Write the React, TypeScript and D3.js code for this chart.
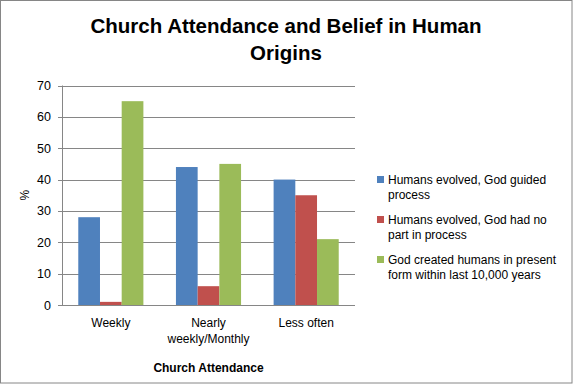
import React from 'react';
import { scaleBand, scaleLinear } from 'd3';

const width = 573;
const height = 384;

// data
const categories = ['Weekly', 'Nearly weekly/Monthly', 'Less often'];
const categoryLines = [['Weekly'], ['Nearly', 'weekly/Monthly'], ['Less often']];
const seriesNames = [
  'Humans evolved, God guided process',
  'Humans evolved, God had no part in process',
  'God created humans in present form within last 10,000 years',
];
const legendLines = [
  ['Humans evolved, God guided', 'process'],
  ['Humans evolved, God had no', 'part in process'],
  ['God created humans in present', 'form within last 10,000 years'],
];
const guided = [28, 44, 40];
const noPart = [1, 6, 35];
const created = [65, 45, 21];
const yTicks = [0, 10, 20, 30, 40, 50, 60, 70];
const colors = ['#4F81BD', '#C0504D', '#9BBB59'];

const series = [guided, noPart, created];

const font = '"Liberation Sans", Arial, sans-serif';

const App = () => {
  const left = 62;
  const right = 355;
  const top = 85.5;
  const bottom = 305;

  const x = scaleBand<string>().domain(categories).range([left, right]).paddingInner(0).paddingOuter(0);
  const y = scaleLinear().domain([0, 70]).range([bottom, top]);

  const bw = x.bandwidth();
  // Excel gap width 150%: 3 bars + 1.5 bar gap per band
  const barW = bw / 4.5;
  const inner = scaleBand<number>().domain([0, 1, 2]).range([0, barW * 3]);

  return (
    <svg width={width} height={height} style={{ position: 'absolute', left: 0, top: 0 }} fontFamily={font}>
      <rect x={0.5} y={0.5} width={width - 1.5} height={height - 1.5} fill="#fff" stroke="#868686" />

      <text x={286} y={33} textAnchor="middle" fontSize={20.5} fontWeight="bold">
        Church Attendance and Belief in Human
      </text>
      <text x={286} y={60} textAnchor="middle" fontSize={20.5} fontWeight="bold">
        Origins
      </text>

      {/* gridlines + y ticks */}
      {yTicks.map(t => (
        <g key={t}>
          <line x1={left} x2={right} y1={Math.round(y(t)) + 0.5} y2={Math.round(y(t)) + 0.5} stroke="#868686" />
          <line x1={left - 4} x2={left} y1={Math.round(y(t)) + 0.5} y2={Math.round(y(t)) + 0.5} stroke="#868686" />
          <text x={51} y={y(t) + 4.5} textAnchor="end" fontSize={12.5} fill="#000">
            {t}
          </text>
        </g>
      ))}
      <line x1={left + 0.5} x2={left + 0.5} y1={top} y2={bottom} stroke="#868686" />

      {/* bars */}
      {series.map((vals, si) =>
        vals.map((v, ci) => (
          <rect
            key={si + '-' + ci}
            x={(x(categories[ci]) as number) + barW * 0.75 + (inner(si) as number)}
            y={y(v)}
            width={barW}
            height={y(0) - y(v)}
            fill={colors[si]}
          />
        ))
      )}

      {/* x category labels */}
      {categories.map((c, ci) => (
        <text key={c} x={(x(c) as number) + bw / 2} textAnchor="middle" fontSize={12}>
          {categoryLines[ci].map((ln, li) => (
            <tspan key={li} x={(x(c) as number) + bw / 2} y={327 + li * 16}>
              {ln}
            </tspan>
          ))}
        </text>
      ))}

      <text x={(left + right) / 2} y={372} textAnchor="middle" fontSize={12} fontWeight="bold">
        Church Attendance
      </text>
      <text transform={`translate(29,${(top + bottom) / 2}) rotate(-90)`} textAnchor="middle" fontSize={12}>
        %
      </text>

      {/* legend */}
      {seriesNames.map((name, si) => (
        <g key={name} transform={`translate(377,${180 + si * 40})`}>
          <rect x={0} y={-4} width={7} height={7} fill={colors[si]} />
          {legendLines[si].map((ln, li) => (
            <text key={li} x={11} y={li * 15 + 4} fontSize={12}>
              {ln}
            </text>
          ))}
        </g>
      ))}
    </svg>
  );
};

export default App;
